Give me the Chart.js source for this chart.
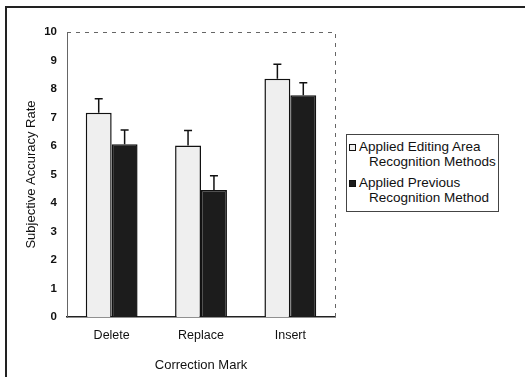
<!DOCTYPE html>
<html>
<head>
<meta charset="utf-8">
<script src="https://cdn.jsdelivr.net/npm/chart.js@4/dist/chart.umd.min.js"></script>
<style>
  html, body { margin: 0; padding: 0; background: #fff; }
  #wrap { position: relative; width: 525px; height: 377px; }
  #frame { position: absolute; left: 5px; top: 6px; width: 530px; height: 380px;
           border-top: 2px solid #222; border-left: 2px solid #222; box-sizing: border-box; }
  #legend { position: absolute; left: 346px; top: 134px; width: 153px; height: 78px;
            border: 1px solid #444; box-sizing: border-box; background: #fff;
            font: 13.5px "Liberation Sans", Arial, sans-serif; color: #111; }
  .item { position: absolute; left: 2px; line-height: 14.5px; }
  .sw { position: absolute; left: 0; top: 4px; width: 7px; height: 7px; box-sizing: border-box; border: 1.5px solid #111; }
  .txt { margin-left: 20px; text-indent: -10px; white-space: nowrap; }
</style>
</head>
<body>
<div id="wrap">
  <canvas id="chart" width="525" height="377"></canvas>
  <div id="frame"></div>
  <div id="legend"></div>
</div>
<script>
// ── Data ─────────────────────────────────────────────
const categories = ['Delete', 'Replace', 'Insert'];
const seriesNames = [
  ['Applied Editing Area', 'Recognition Methods'],
  ['Applied Previous', 'Recognition Method'],
];
const editingArea = [7.17, 6.02, 8.36];
const editingAreaErr = [0.49, 0.52, 0.51];
const previous = [6.06, 4.46, 7.78];
const previousErr = [0.5, 0.5, 0.44];
const yTicks = [0, 1, 2, 3, 4, 5, 6, 7, 8, 9, 10];

const FONT = '"Liberation Sans", Arial, sans-serif';

// error whiskers (upward only) + dashed top/right frame
const errorBars = {
  id: 'errorBars',
  afterDatasetsDraw(chart) {
    const { ctx, scales: { y } } = chart;
    ctx.save();
    ctx.strokeStyle = '#111';
    ctx.lineWidth = 1.5;
    chart.data.datasets.forEach((ds, i) => {
      chart.getDatasetMeta(i).data.forEach((el, j) => {
        const top = y.getPixelForValue(ds.data[j] + ds.err[j]);
        ctx.beginPath();
        ctx.moveTo(el.x, el.y);
        ctx.lineTo(el.x, top);
        ctx.moveTo(el.x - 4, top);
        ctx.lineTo(el.x + 4, top);
        ctx.stroke();
      });
    });
    ctx.restore();
  },
  beforeDatasetsDraw(chart) {
    const { ctx, chartArea: a } = chart;
    ctx.save();
    ctx.strokeStyle = '#666';
    ctx.lineWidth = 1;
    ctx.setLineDash([4, 5]);
    ctx.beginPath();
    ctx.moveTo(a.left, a.top + 0.5);
    ctx.lineTo(a.right + 0.5, a.top + 0.5);
    ctx.lineTo(a.right + 0.5, a.bottom);
    ctx.stroke();
    ctx.restore();
  }
};

new Chart(document.getElementById('chart'), {
  type: 'bar',
  data: {
    labels: categories,
    datasets: [
      { label: seriesNames[0].join(' '), data: editingArea, err: editingAreaErr,
        backgroundColor: '#efefef', borderColor: '#111', borderWidth: 1.5 },
      { label: seriesNames[1].join(' '), data: previous, err: previousErr,
        backgroundColor: '#1c1c1c', borderColor: '#111', borderWidth: 1.5 },
    ]
  },
  options: {
    responsive: false,
    animation: false,
    layout: { padding: { top: 32, right: 190, left: 24, bottom: 0 } },
    categoryPercentage: 0.58,
    barPercentage: 1,
    plugins: { legend: { display: false }, tooltip: { enabled: false } },
    scales: {
      x: {
        grid: { display: false, drawTicks: false },
        border: { display: true, color: '#222', width: 1.5 },
        ticks: { color: '#111', font: { family: FONT, size: 12.5 }, padding: 11 },
        title: { display: true, text: 'Correction Mark', color: '#111',
                 font: { family: FONT, size: 13 }, padding: { top: 8 } },
        afterFit: s => { s.height = 60; }
      },
      y: {
        min: 0, max: 10,
        afterBuildTicks: s => { s.ticks = yTicks.map(v => ({ value: v })); },
        grid: { display: false, drawTicks: false },
        border: { display: true, color: '#666', width: 1, dash: [4, 4] },
        ticks: { color: '#111', font: { family: FONT, size: 11.5, weight: 'bold' }, padding: 10 },
        title: { display: true, text: 'Subjective Accuracy Rate', color: '#111',
                 font: { family: FONT, size: 13 }, padding: { top: 0, bottom: 4 } },
        afterFit: s => { s.width = 43; }
      }
    }
  },
  plugins: [errorBars]
});

// legend with two-line labels
const fills = ['#efefef', '#1c1c1c'];
const tops = [5, 41];
document.getElementById('legend').innerHTML = seriesNames.map((lines, i) =>
  `<div class="item" style="top:${tops[i]}px">
     <div class="sw" style="background:${fills[i]}"></div>
     <div class="txt">${lines.join('<br>')}</div>
   </div>`).join('');
</script>
</body>
</html>
